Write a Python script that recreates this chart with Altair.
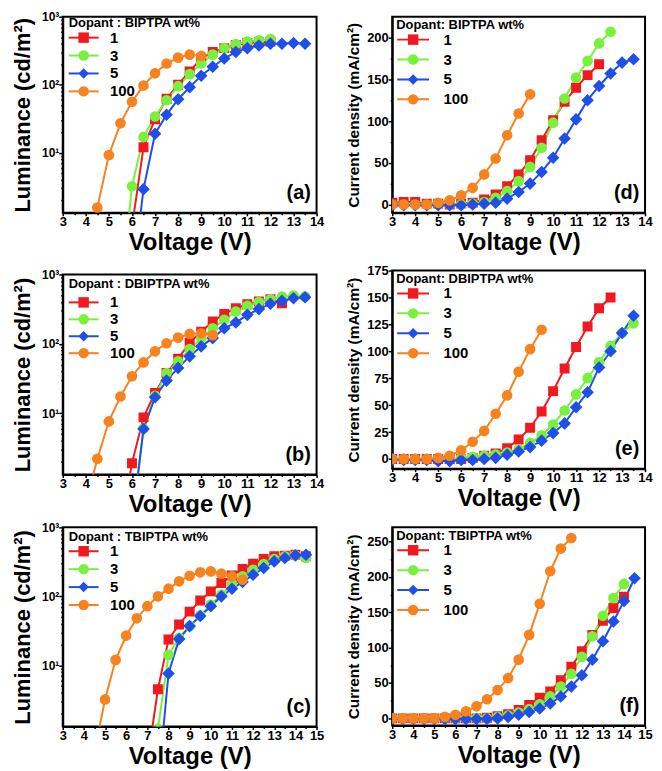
import altair as alt
import pandas as pd

# ---------------- data ----------------
V_GRID = [3.0, 3.5, 4.0, 4.5, 5.0, 5.5, 6.0, 6.5, 7.0, 7.5, 8.0, 8.5, 9.0,
          9.5, 10.0, 10.5, 11.0, 11.5, 12.0, 12.5, 13.0, 13.5, 14.0, 14.5, 15.0]
DOPANTS = ["1", "3", "5", "100"]
COLORS = ["#f0191e", "#78f03c", "#1f4fe8", "#f7821e"]
SHAPES = ["square", "circle", "diamond", "circle"]
SIZES = [100, 115, 160, 115]

# (a) luminance, BIPTPA  (start voltage of each series, then values every 0.5 V)
A_START = [6.0, 5.5, 6.0, 4.5]
A_1 = [0.8, 12, 31, 62, 100, 157, 243, 302, 345, 385, 410, 420, 430]
A_3 = [0.07, 3.2, 17, 34, 59, 95, 143, 205, 277, 345, 395, 430, 450, 470]
A_5 = [0.12, 2.9, 19, 36, 61, 92, 135, 184, 243, 302, 345, 378, 400, 400, 410, 400]
A_100 = [1.55, 9.2, 27, 56, 97, 147, 205, 250, 277, 265]

# (b) luminance, DBIPTPA
B_START = [5.5, 6.0, 6.0, 4.0]
B_1 = [0.2, 1.9, 8.7, 19.5, 38, 61, 104, 150, 210, 270, 327, 372, 408, 440, 385]
B_3 = [0.27, 6, 17.8, 38, 56, 84, 121, 168, 222, 293, 354, 400, 440, 480, 497, 480]
B_5 = [0.25, 5.9, 17, 29.5, 45, 66, 92, 121, 168, 203, 262, 317, 378, 417, 455, 470]
B_100 = [0.5, 2.2, 7.6, 17.4, 34, 54, 78, 102, 123, 139, 142, 133]

# (c) luminance, TBIPTPA
C_START = [7.0, 7.5, 7.5, 4.5]
C_1 = [0.4, 4.5, 23.6, 39, 60, 87, 118, 156, 201, 249, 297, 347, 380, 388, 400, 380]
C_3 = [1.2, 14.2, 25, 37, 53, 76, 106, 151, 195, 243, 294, 347, 380, 393, 360]
C_5 = [0.17, 7.6, 24, 37, 52, 72, 100, 129, 161, 206, 257, 321, 360, 393, 400]
C_100 = [0.55, 3.2, 12, 27, 48, 72, 100, 129, 165, 199, 223, 230, 213, 195, 174]

# (d) current density, BIPTPA
D_START = [3.0, 3.0, 3.0, 3.0]
D_1 = [2, 3, 3, 1, 1, 0, 1, 2, 6, 12, 22, 36, 53, 77, 101, 123, 140, 155, 168]
D_3 = [0, 0, 0, 0, 0, 0, 0, 1, 3, 8, 16, 28, 45, 68, 98, 127, 152, 172, 193, 207]
D_5 = [-1, -1, -1, -1, -1, -1, -1, 0, 1, 2, 7, 15, 25, 39, 56, 79, 102, 125, 142, 157, 170, 174]
D_100 = [0, 0, 0, 0, 2, 5, 11, 20, 36, 55, 83, 109, 132]

# (e) current density, DBIPTPA
E_START = [3.0, 3.0, 3.0, 3.0]
E_1 = [0, 0, 0, 0, 0, 0, 0, 1, 3, 5, 10, 18, 29, 44, 63, 84, 104, 123, 140, 150]
E_3 = [0, 0, 0, 0, 0, 0, 1, 2, 3, 4, 6, 9, 15, 22, 32, 45, 60, 75, 90, 105, 117, 126]
E_5 = [-1, -1, -1, -1, -2, -2, -1, -1, 0, 1, 4, 7, 11, 17, 24, 33, 48, 62, 85, 100, 117, 133]
E_100 = [0, 0, 0, 0, 1, 3, 8, 16, 26, 42, 59, 81, 102, 120]

# (f) current density, TBIPTPA
F_START = [3.0, 3.0, 3.0, 3.0]
F_1 = [0, 0, 0, 0, 0, 0, 0, 0, 0, 1, 3, 6, 12, 19, 29, 38, 54, 73, 95, 118, 138, 156, 172]
F_3 = [0, 0, 0, 0, 0, 0, 0, 0, 0, 0, 2, 4, 8, 13, 20, 31, 45, 63, 87, 116, 145, 170, 190]
F_5 = [-1, -1, -1, -1, -1, -1, -1, -1, -1, -1, 0, 2, 5, 9, 14, 21, 31, 45, 61, 83, 109, 137, 166, 198]
F_100 = [0, 0, 0, 0, 0, 2, 5, 10, 17, 27, 40, 57, 83, 118, 162, 208, 240, 255]

LEGEND_TITLES = ["Dopant : BIPTPA wt%", "Dopant : DBIPTPA wt%", "Dopant : TBIPTPA wt%",
                 "Dopant: BIPTPA wt%", "Dopant: DBIPTPA wt%", "Dopant: TBIPTPA wt%"]
PANEL_LABELS = ["(a)", "(b)", "(c)", "(d)", "(e)", "(f)"]


def table(starts, series):
    rows = []
    for dop, start, vals in zip(DOPANTS, starts, series):
        i0 = V_GRID.index(start)
        for v, y in zip(V_GRID[i0:i0 + len(vals)], vals):
            rows.append({"V": v, "val": y, "dopant": dop})
    return pd.DataFrame(rows)


# ---------------- style ----------------
FONT = "Liberation Sans"


def panel(df, idx, xmax, kind, ydomain, yvals, ymajor, ytitle, ytitle_size,
          width, height, leg):
    xvals = [v for v in V_GRID if v <= xmax]
    xaxis = alt.Axis(
        values=xvals,
        labelExpr="datum.value % 1 == 0 ? format(datum.value, 'd') : ''",
        tickSize={"condition": {"test": "datum.value % 1 == 0", "value": 3}, "value": 2},
        title="Voltage (V)", titleFontSize=24, titlePadding=2,
        labelOverlap=False, labelFlush=False, grid=False)
    if kind == "log":
        yscale = alt.Scale(type="log", domain=ydomain, nice=False)
        yaxis = alt.Axis(
            values=yvals,
            labelExpr="datum.value==10 ? '10\u00b9' : datum.value==100 ? '10\u00b2' : datum.value==1000 ? '10\u00b3' : ''",
            tickSize={"condition": {"test": "datum.value==10 || datum.value==100 || datum.value==1000",
                                    "value": 4}, "value": 2},
            title=ytitle, titleFontSize=ytitle_size, titlePadding=7,
            labelOverlap=False, labelFlush=False, grid=False, labelFontSize=12)
    else:
        yscale = alt.Scale(domain=ydomain, nice=False, zero=False)
        yaxis = alt.Axis(
            values=yvals,
            labelExpr="datum.value % " + str(ymajor) + " == 0 ? format(datum.value, 'd') : ''",
            tickSize={"condition": {"test": "datum.value % " + str(ymajor) + " == 0", "value": 4},
                      "value": 2},
            title=ytitle, titleFontSize=ytitle_size, titlePadding=5,
            labelOverlap=False, labelFlush=False, grid=False)

    cscale = alt.Scale(domain=DOPANTS, range=COLORS)
    base = alt.Chart(df).encode(
        x=alt.X("V:Q", scale=alt.Scale(domain=[3, xmax], nice=False), axis=xaxis),
        y=alt.Y("val:Q", scale=yscale, axis=yaxis),
    )

    lx, ly, tpad, rpad, sym_off, lab_off, half_len = leg
    common = dict(
        orient="none", legendX=lx, legendY=ly, padding=0,
        titleFontSize=13, titleFont=FONT, titleFontWeight="bold", titleColor="black",
        titlePadding=tpad, titleLimit=400,
        labelFontSize=15, labelFont=FONT, labelFontWeight="bold", labelColor="black",
        rowPadding=rpad, symbolOpacity=1, symbolOffset=sym_off,
    )
    # the line part of each legend key: a second legend with the same layout, drawn under the markers
    line_legend = alt.Legend(
        title=" ", labelExpr="''", labelOffset=0,
        symbolType="M-%.2f,0L%.2f,0" % (half_len, half_len), symbolSize=169,
        symbolStrokeWidth=2, zindex=0, **common)
    key_legend = dict(
        title=LEGEND_TITLES[idx], symbolSize=110, symbolStrokeWidth=0,
        labelOffset=lab_off, zindex=1, **common)

    lines = base.mark_line(clip=True, strokeWidth=2).encode(
        color=alt.Color("dopant:N", scale=cscale, legend=line_legend),
    )
    pts = [
        base.mark_point(filled=True, opacity=1, clip=True, shape=shp, size=sz).encode(
            color=alt.Color("dopant:N", scale=cscale, legend=None),
        ).transform_filter(alt.datum.dopant == dop)
        for dop, shp, sz in zip(DOPANTS, SHAPES, SIZES)
    ]
    # legend-only layer: no rows survive the filter, the legend comes from the scales
    key = base.mark_point(filled=True, opacity=1).encode(
        color=alt.Color("dopant:N", scale=cscale, legend=alt.Legend(**key_legend)),
        shape=alt.Shape("dopant:N", scale=alt.Scale(domain=DOPANTS, range=SHAPES),
                        legend=alt.Legend(**key_legend)),
    ).transform_filter("false")

    return alt.layer(lines, *pts, key).resolve_scale(
        color="independent", shape="independent"
    ).properties(
        width=width, height=height,
        title=alt.Title(PANEL_LABELS[idx], orient="bottom", anchor="end", fontSize=20,
                        fontWeight="bold", font=FONT, color="black", dy=-72, dx=-13, offset=0),
    )


LOG_TICKS = [m * 10 ** e for e in range(3) for m in range(1, 10) if m * 10 ** e >= 2] + [1000]
LUM = "Luminance (cd/m\u00b2)"
CUR = "Current density (mA/cm\u00b2)"

# legend: x, y, title padding, row padding, symbol offset, label offset, line half length
pa = panel(table(A_START, [A_1, A_3, A_5, A_100]), 0, 14, "log", [1.3, 1000], LOG_TICKS, None,
           LUM, 22, 255, 197, (6, 0.5, 0, 2, 7.5, 19, 2.31))
pb = panel(table(B_START, [B_1, B_3, B_5, B_100]), 1, 14, "log", [1.3, 1000], LOG_TICKS, None,
           LUM, 22, 255, 201, (6, 3.5, 4, 1, 7.5, 19, 2.31))
pc = panel(table(C_START, [C_1, C_3, C_5, C_100]), 2, 15, "log", [1.3, 1000], LOG_TICKS, None,
           LUM, 22, 255, 200, (6, 3.5, 0, 2, 7.5, 19, 2.31))
pd_ = panel(table(D_START, [D_1, D_3, D_5, D_100]), 3, 14, "lin", [-10, 225],
            [0, 25, 50, 75, 100, 125, 150, 175, 200], 50,
            CUR, 15.5, 254, 197, (4, 2.5, 0, 4, 9.5, 23, 2.46))
pe = panel(table(E_START, [E_1, E_3, E_5, E_100]), 4, 14, "lin", [-9, 175],
           [0, 25, 50, 75, 100, 125, 150, 175], 25,
           CUR, 15.5, 254, 199, (4, 2.5, 0, 4, 9.5, 23, 2.46))
pf = panel(table(F_START, [F_1, F_3, F_5, F_100]), 5, 15, "lin", [-10, 270],
           [0, 25, 50, 75, 100, 125, 150, 175, 200, 225, 250], 50,
           CUR, 15.5, 254, 199, (4, 2.5, 0, 4, 9.5, 23, 2.46))

RES = dict(color="independent", shape="independent")
left = alt.vconcat(pa, alt.vconcat(pb, pc, spacing=3).resolve_scale(**RES),
                   spacing=12).resolve_scale(**RES)
right = alt.vconcat(pd_, alt.vconcat(pe, pf, spacing=15).resolve_scale(**RES),
                    spacing=8).resolve_scale(**RES)

chart = alt.hconcat(left, right, spacing=20).resolve_scale(**RES).properties(
    padding={"left": 2, "top": 0, "right": 0, "bottom": 0},
    background="white",
).configure_view(
    stroke="black", strokeWidth=2,
).configure_axis(
    domainColor="black", domainWidth=2, tickColor="black", tickWidth=1.5,
    labelFont=FONT, labelFontWeight="bold", labelFontSize=13, labelColor="black", labelPadding=0,
    titleFont=FONT, titleFontWeight="bold", titleColor="black",
)

chart.save("out.html", embed_options={"renderer": "svg", "actions": False})
